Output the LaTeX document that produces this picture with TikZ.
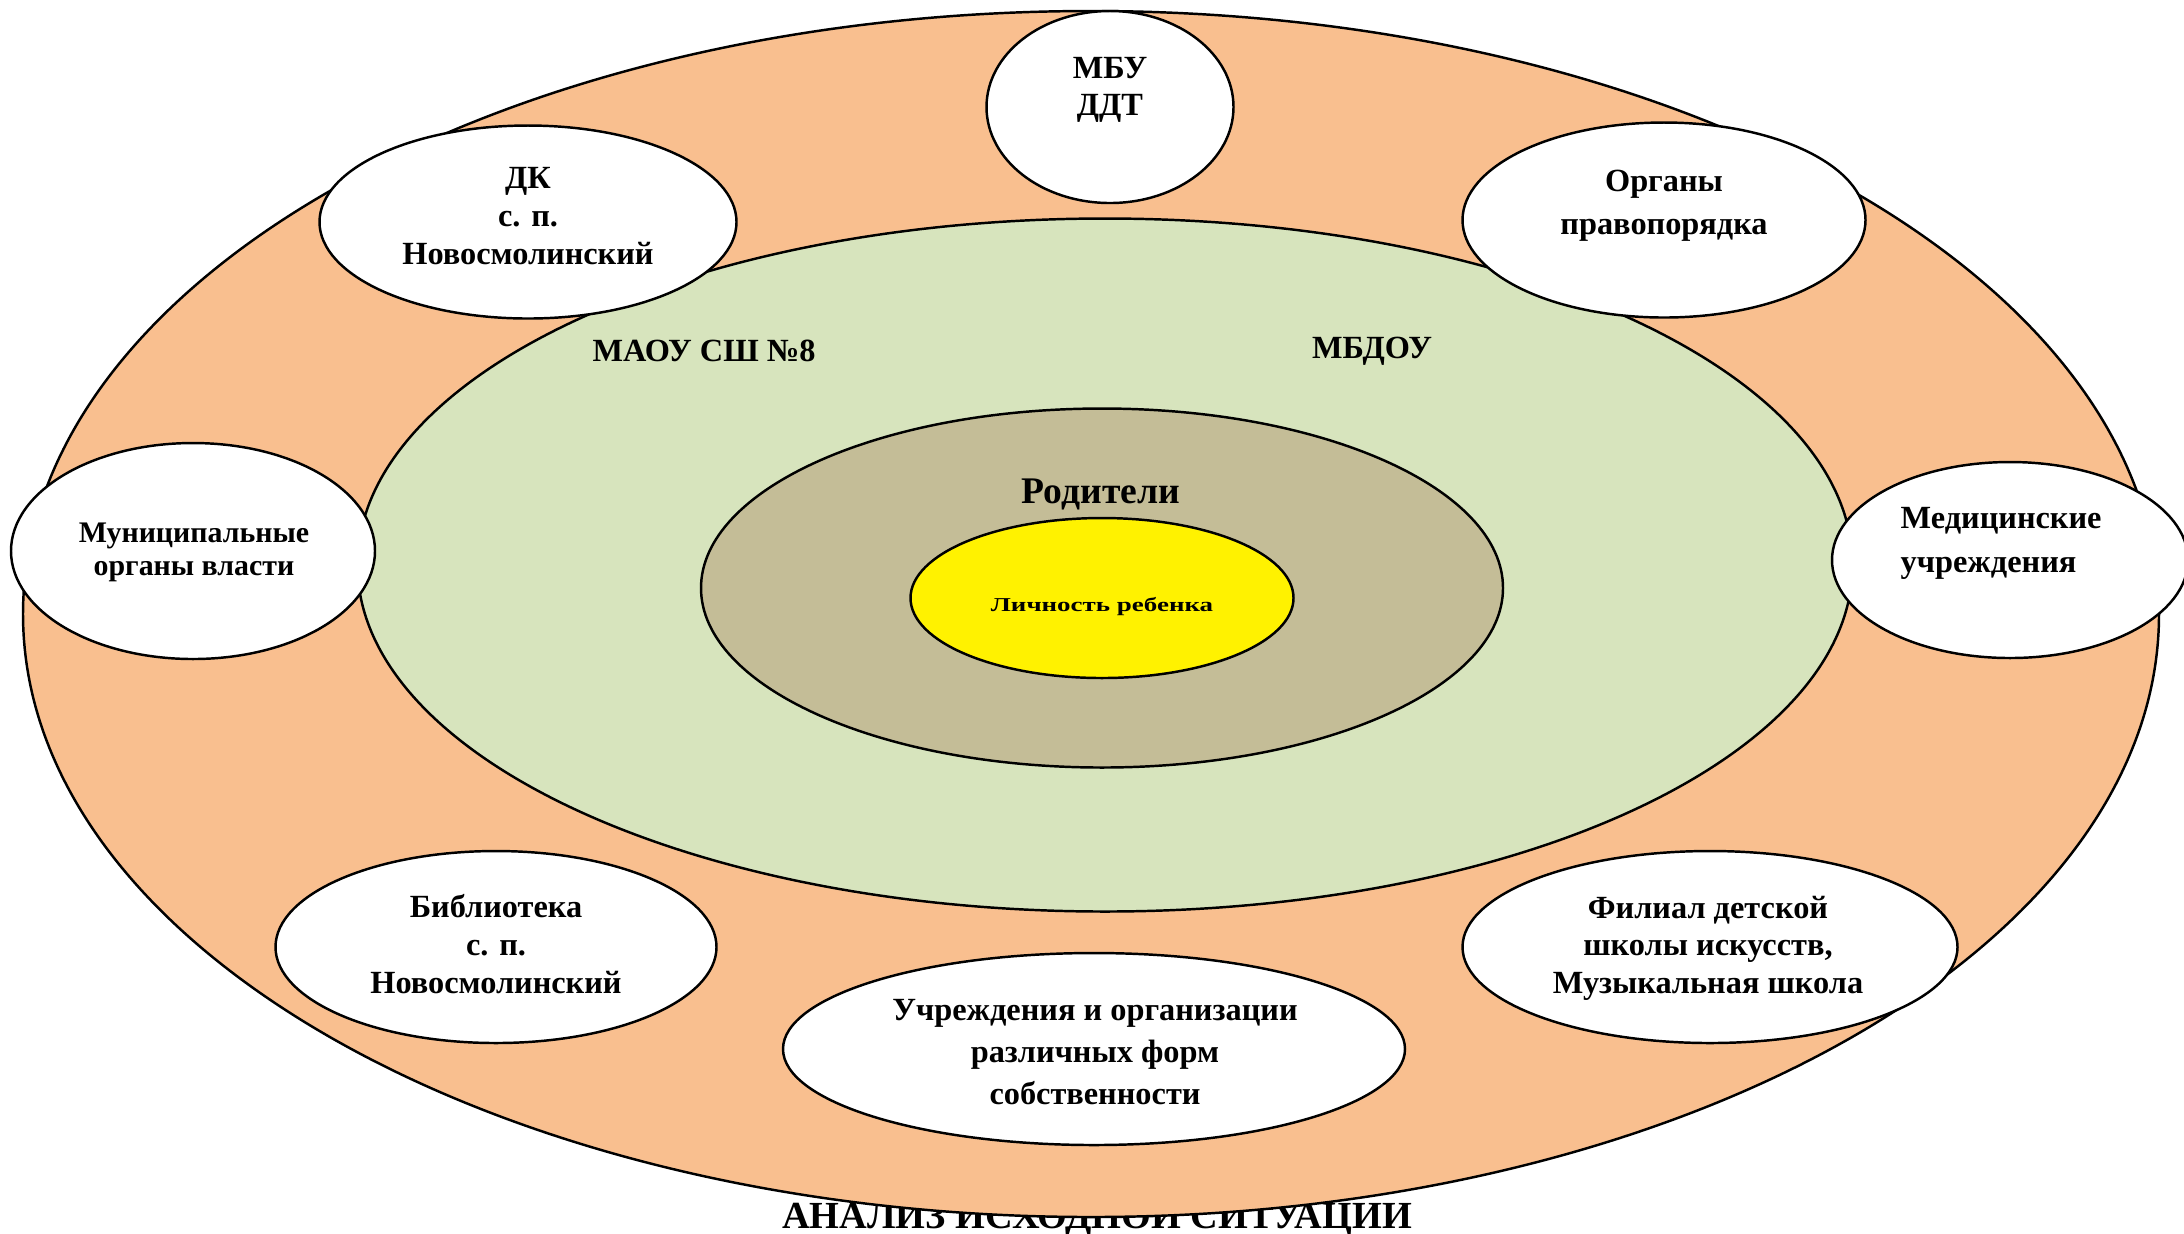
\documentclass[tikz,border=0pt]{standalone}
\usepackage{fontspec}
\setmainfont{Liberation Serif}
\newfontfamily\wideserif{Liberation Serif}[FakeStretch=1.37]
\usetikzlibrary{shapes.geometric}
\definecolor{peach}{HTML}{F9BF8F}
\definecolor{sage}{HTML}{D7E4BD}
\definecolor{khaki}{HTML}{C4BD97}
\tikzset{
	ring/.style = {ellipse, draw, line width = 0.7pt, inner sep = 0pt},
	partner/.style = {ring, fill = white},
	caption/.style = {align = center, inner sep = 0pt, font = \bfseries\fontsize{9.2}{10.7}\selectfont}
}
\begin{document}
\begin{tikzpicture}[x = 0.1mm, y = -0.1mm]
					\useasboundingbox (0, 0) rectangle (2184, 1233);
					\node (title) at (1097, 1228) [anchor = base, inner sep = 0pt, font = \bfseries\fontsize{10.9}{12}\selectfont] {АНАЛИЗ ИСХОДНОЙ СИТУАЦИИ};
					\node (society) at (1091, 614) [ring, fill = peach, minimum width = 213.6mm, minimum height = 120.6mm] {};
					\node (school) at (1105, 565) [ring, fill = sage, minimum width = 149.5mm, minimum height = 69.3mm] {};
					\node (family) at (1102, 588) [ring, fill = khaki, minimum width = 80.2mm, minimum height = 35.9mm] {};
					\node (child) at (1102, 598) [ring, fill = yellow, minimum width = 38.3mm, minimum height = 16mm] {};
					\node (maou) at (704, 351) [caption] {МАОУ СШ №8};
					\node (mbdou) at (1372, 351) [caption] {МБДОУ};
					\node (parents) at (1101, 494) [caption, font = \bfseries\fontsize{10.7}{12}\selectfont] {Родители};
					\node (person) at (1102, 607) [caption, font = \wideserif\bfseries\fontsize{5.6}{6.5}\selectfont] {Личность ребенка};
					\node (ddt) at (1110, 107) [partner, minimum width = 24.7mm, minimum height = 19.2mm] {};
						\node (ddt-text) at (1110, 90) [caption] {МБУ\\ДДТ};
					\node (dk) at (528, 222) [partner, minimum width = 41.7mm, minimum height = 19.3mm] {};
						\node (dk-text) at (528, 216) [caption] {ДК\\с. п.\\Новосмолинский};
					\node (police) at (1664, 220) [partner, minimum width = 40.3mm, minimum height = 19.5mm] {};
						\node (police-text) at (1664, 206) [caption, font = \bfseries\fontsize{9.2}{12.2}\selectfont] {Органы\\правопорядка};
					\node (council) at (193, 551) [partner, minimum width = 36.4mm, minimum height = 21.6mm] {};
						\node (council-text) at (194, 552) [caption, font = \bfseries\fontsize{8.5}{9.4}\selectfont] {Муниципальные\\органы власти};
					\node (clinic) at (2010, 560) [partner, minimum width = 35.6mm, minimum height = 19.6mm] {};
						\node (clinic-text) at (1900, 543) [caption, anchor = west, align = left, font = \bfseries\fontsize{9.2}{12.5}\selectfont] {Медицинские\\учреждения};
					\node (library) at (496, 947) [partner, minimum width = 44.1mm, minimum height = 19.2mm] {};
						\node (library-text) at (496, 944) [caption] {Библиотека\\с. п.\\Новосмолинский};
					\node (firms) at (1094, 1049) [partner, minimum width = 62.2mm, minimum height = 19.2mm] {};
						\node (firms-text) at (1095, 1052) [caption, font = \bfseries\fontsize{9.2}{11.9}\selectfont] {Учреждения и организации\\различных форм\\собственности};
					\node (arts) at (1710, 947) [partner, minimum width = 49.5mm, minimum height = 19.2mm] {};
						\node (arts-text) at (1708, 948) [caption] {Филиал детской\\школы искусств,\\Музыкальная школа};
\end{tikzpicture}
\end{document}
